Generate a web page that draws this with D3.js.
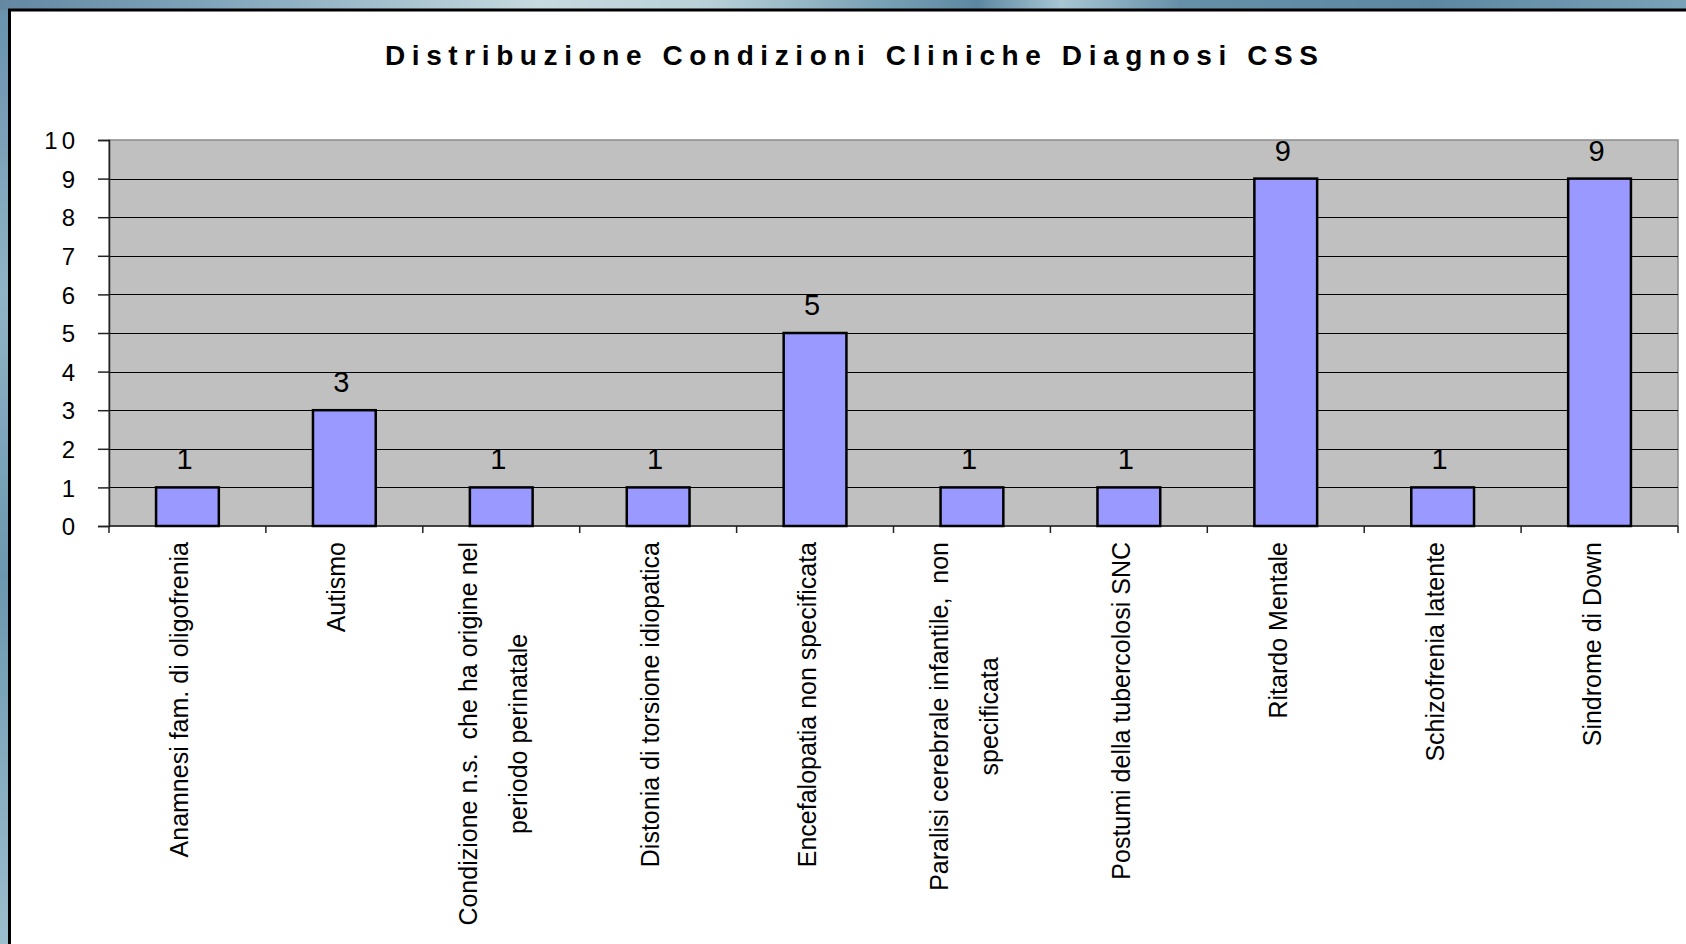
<!DOCTYPE html>
<html>
<head>
<meta charset="utf-8">
<script src="https://cdn.jsdelivr.net/npm/d3@7"></script>
<style>
  html, body { margin: 0; padding: 0; background: #6f98b0; }
  svg { display: block; }
</style>
</head>
<body>
<svg id="chart" width="1686" height="944"></svg>
<script>
// ---- Data ----
const title = "Distribuzione Condizioni Cliniche Diagnosi CSS";
const categories = [
  "Anamnesi fam. di oligofrenia",
  "Autismo",
  "Condizione n.s.  che ha origine nel\nperiodo perinatale",
  "Distonia di torsione idiopatica",
  "Encefalopatia non specificata",
  "Paralisi cerebrale infantile,  non\nspecificata",
  "Postumi della tubercolosi SNC",
  "Ritardo Mentale",
  "Schizofrenia latente",
  "Sindrome di Down"
];
const values = [1, 3, 1, 1, 5, 1, 1, 9, 1, 9];
const yTicks = [0, 1, 2, 3, 4, 5, 6, 7, 8, 9, 10];

// ---- Layout ----
const W = 1686, H = 944;
const plot = { left: 109, right: 1678, top: 140, bottom: 526 };
const svg = d3.select("#chart");

// background (textured blue)
const defs = svg.append("defs");
const bg = defs.append("linearGradient").attr("id", "bgGrad")
  .attr("x1", "0").attr("y1", "0").attr("x2", "1").attr("y2", "0");
[["0%", "#6488a2"], ["12%", "#7ea4ba"], ["20%", "#9ab8c8"], ["32%", "#c6dadf"],
 ["42%", "#b9d1d8"], ["52%", "#7aa2b6"], ["58%", "#5d88a2"], ["63%", "#a8c6d4"],
 ["70%", "#6690a8"], ["85%", "#5e88a2"], ["100%", "#7aa2b8"]]
  .forEach(([o, c]) => bg.append("stop").attr("offset", o).attr("stop-color", c));
svg.append("rect").attr("width", W).attr("height", H).attr("fill", "url(#bgGrad)");
const lg = defs.append("linearGradient").attr("id", "leftGrad")
  .attr("x1", "0").attr("y1", "0").attr("x2", "0").attr("y2", "1");
[["0%", "#6a92ac"], ["30%", "#8fb4c6"], ["60%", "#6d97ae"], ["100%", "#9dc0cf"]]
  .forEach(([o, c]) => lg.append("stop").attr("offset", o).attr("stop-color", c));
svg.append("rect").attr("x", 0).attr("y", 10).attr("width", 9).attr("height", H)
  .attr("fill", "url(#leftGrad)");

// white panel with black border
svg.append("rect").attr("x", 9.5).attr("y", 10).attr("width", W + 20).attr("height", H + 20)
  .attr("fill", "#ffffff").attr("stroke", "#000").attr("stroke-width", 3);

// title
svg.append("text")
  .attr("x", 385).attr("y", 65)
  .attr("textLength", 933).attr("lengthAdjust", "spacing")
  .style("font-family", "'Liberation Sans', Arial, sans-serif")
  .style("font-weight", "bold").style("font-size", "28px").attr("fill", "#000")
  .text(title);

// scales
const x = d3.scaleBand().domain(categories).range([plot.left, plot.right]).paddingInner(0).paddingOuter(0);
const y = d3.scaleLinear().domain([0, 10]).range([plot.bottom, plot.top]);

// plot area background
svg.append("rect").attr("x", plot.left).attr("y", plot.top)
  .attr("width", plot.right - plot.left).attr("height", plot.bottom - plot.top)
  .attr("fill", "#c0c0c0").attr("stroke", "#8a8a8a").attr("stroke-width", 1.5);

// gridlines
svg.append("g").selectAll("line").data(yTicks.filter(t => t > 0 && t < 10)).join("line")
  .attr("x1", plot.left).attr("x2", plot.right)
  .attr("y1", d => Math.round(y(d)) + 0.5).attr("y2", d => Math.round(y(d)) + 0.5)
  .attr("stroke", "#000").attr("stroke-width", 1);

// y axis
const yAxis = d3.axisLeft(y).tickValues(yTicks).tickSize(11).tickPadding(22);
const gy = svg.append("g").attr("transform", `translate(${plot.left},0)`).call(yAxis);
gy.select(".domain").attr("stroke", "#222").attr("stroke-width", 1.5);
gy.selectAll(".tick line").attr("stroke", "#222").attr("stroke-width", 1.5);
gy.selectAll(".tick text")
  .style("font-family", "'Liberation Sans', Arial, sans-serif")
  .style("font-size", "24px").attr("fill", "#000")
  .style("letter-spacing", "4px").attr("dx", "3px").attr("dy", "0.36em");

// x axis (ticks at category boundaries)
const xAxisLine = svg.append("g");
xAxisLine.append("line").attr("x1", plot.left).attr("x2", plot.right)
  .attr("y1", plot.bottom).attr("y2", plot.bottom).attr("stroke", "#222").attr("stroke-width", 1.5);
const boundaries = categories.map(c => x(c)).concat([x(categories[categories.length - 1]) + x.bandwidth()]);
xAxisLine.selectAll("line.tk").data(boundaries).join("line").attr("class", "tk")
  .attr("x1", d => d).attr("x2", d => d)
  .attr("y1", plot.bottom).attr("y2", plot.bottom + 7)
  .attr("stroke", "#222").attr("stroke-width", 1.5);

// bars
const barW = x.bandwidth() * 0.4;
svg.append("g").selectAll("rect").data(values).join("rect")
  .attr("x", (d, i) => x(categories[i]) + x.bandwidth() / 2 - barW / 2)
  .attr("y", d => y(d))
  .attr("width", barW)
  .attr("height", d => y(0) - y(d))
  .attr("fill", "#9999ff").attr("stroke", "#000").attr("stroke-width", 2.5);

// data labels
svg.append("g").selectAll("text").data(values).join("text")
  .attr("x", (d, i) => x(categories[i]) + x.bandwidth() / 2 - 3)
  .attr("y", d => y(d) - 18)
  .attr("text-anchor", "middle")
  .style("font-family", "'Liberation Sans', Arial, sans-serif")
  .style("font-size", "29px").attr("fill", "#000")
  .text(d => d);

// category labels (rotated, anchored at top)
const labelTop = 542;
const lineGap = 50;
categories.forEach((c, i) => {
  const lines = c.split("\n");
  const cx = x(c) + x.bandwidth() / 2;
  const g = svg.append("g").attr("transform", `translate(${cx},${labelTop}) rotate(-90)`);
  const texts = lines.map((ln, j) => g.append("text")
    .attr("y", (j - (lines.length - 1) / 2) * lineGap + 1)
    .style("font-family", "'Liberation Sans', Arial, sans-serif")
    .style("font-size", "25px").attr("fill", "#000")
    .style("white-space", "pre")
    .text(ln));
  const maxW = d3.max(texts, t => t.node().getComputedTextLength());
  texts.forEach(t => t.attr("x", -maxW / 2).attr("text-anchor", "middle"));
});
</script>
</body>
</html>
